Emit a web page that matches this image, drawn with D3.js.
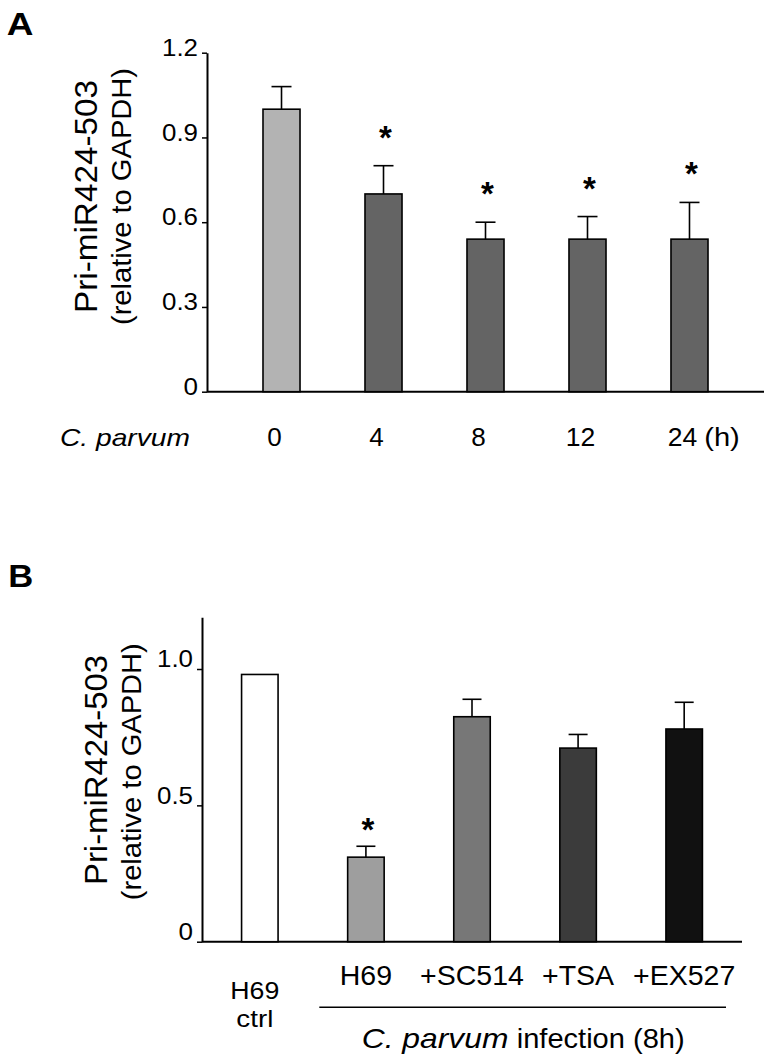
<!DOCTYPE html>
<html>
<head>
<meta charset="utf-8">
<script src="https://cdn.jsdelivr.net/npm/d3@7"></script>
<style>
  html, body { margin: 0; padding: 0; background: #fff; }
  svg { display: block; }
  text { font-family: "Liberation Sans", Arial, Helvetica, sans-serif; fill: #000; }
</style>
</head>
<body>
<svg id="chart" width="772" height="1062"></svg>
<script>
// ---------- Data ----------
const catsA = ["0", "4", "8", "12", "24"];
const meanA = [1.00, 0.70, 0.54, 0.54, 0.54];
const errA  = [0.08, 0.10, 0.06, 0.08, 0.13];
const sigA  = [false, true, true, true, true];
const colorsA = ["#b3b3b3", "#646464", "#646464", "#646464", "#646464"];
const ticksA = [0, 0.3, 0.6, 0.9, 1.2];
const tickLabelsA = ["0", "0.3", "0.6", "0.9", "1.2"];

const catsB = ["H69 ctrl", "H69", "+SC514", "+TSA", "+EX527"];
const meanB = [0.98, 0.31, 0.825, 0.71, 0.78];
const errB  = [0, 0.04, 0.064, 0.05, 0.098];
const sigB  = [false, true, false, false, false];
const colorsB = ["#ffffff", "#9e9e9e", "#777777", "#3b3b3b", "#111111"];
const ticksB = [0, 0.5, 1.0];
const tickLabelsB = ["0", "0.5", "1.0"];

const yTitle1 = "Pri-miR424-503";
const yTitle2 = "(relative to GAPDH)";

// ---------- Drawing ----------
const svg = d3.select("#chart");

function panel(cfg) {
  const g = svg.append("g");
  const x = d3.scaleBand().domain(cfg.cats).range(cfg.xRange)
    .paddingInner(cfg.pi).paddingOuter(cfg.po);
  const y = d3.scaleLinear().domain(cfg.yDomain).range(cfg.yRange);

  // y axis
  const yAxis = d3.axisLeft(y).tickValues(cfg.ticks).tickSize(5).tickSizeOuter(0)
    .tickFormat((d, i) => cfg.tickLabels[i]);
  const ya = g.append("g").attr("transform", `translate(${cfg.xRange[0]},0)`).call(yAxis);
  ya.attr("font-size", 24).attr("font-family", '"Liberation Sans", Arial, sans-serif');
  ya.select(".domain").attr("stroke", "#000").attr("stroke-width", 2);
  ya.selectAll(".tick line").attr("stroke", "#000").attr("stroke-width", 1.5);
  ya.selectAll(".tick text").attr("font-size", 24)
    .attr("x", -9).attr("transform", `translate(0,${cfg.tickShift})`)
    .attr("textLength", function() { return this.textContent.length > 1 ? 36 : 14.5; })
    .attr("lengthAdjust", "spacingAndGlyphs");

  // x axis line
  g.append("line")
    .attr("x1", cfg.xRange[0]).attr("x2", cfg.xRange[1])
    .attr("y1", y(0)).attr("y2", y(0))
    .attr("stroke", "#000").attr("stroke-width", 2);

  const data = cfg.cats.map((c, i) => ({c, m: cfg.mean[i], e: cfg.err[i], s: cfg.sig[i], col: cfg.colors[i]}));
  const bw = x.bandwidth();

  // error bars
  const eb = g.selectAll(".eb").data(data.filter(d => d.e > 0)).enter().append("g");
  eb.append("line")
    .attr("x1", d => x(d.c) + bw / 2).attr("x2", d => x(d.c) + bw / 2)
    .attr("y1", d => y(d.m)).attr("y2", d => y(d.m + d.e))
    .attr("stroke", "#000").attr("stroke-width", 1.6);
  eb.append("line")
    .attr("x1", d => x(d.c) + bw / 2 - cfg.cap / 2).attr("x2", d => x(d.c) + bw / 2 + cfg.cap / 2)
    .attr("y1", d => y(d.m + d.e)).attr("y2", d => y(d.m + d.e))
    .attr("stroke", "#000").attr("stroke-width", 1.6);

  // bars
  g.selectAll(".bar").data(data).enter().append("rect")
    .attr("x", d => x(d.c)).attr("width", bw)
    .attr("y", d => y(d.m)).attr("height", d => y(0) - y(d.m))
    .attr("fill", d => d.col).attr("stroke", "#000").attr("stroke-width", 1.6);

  // significance stars
  g.selectAll(".star").data(data.filter(d => d.s)).enter().append("text")
    .attr("x", d => x(d.c) + bw / 2 + 2)
    .attr("y", d => y(d.m + d.e) - cfg.starGap + 19)
    .attr("text-anchor", "middle").attr("font-size", 33).attr("font-weight", "bold")
    .text("*");

  // y titles
  g.append("text")
    .attr("transform", `translate(${cfg.t1[0]},${cfg.t1[1]}) rotate(-90)`)
    .attr("text-anchor", "middle").attr("font-size", 32)
    .attr("textLength", cfg.t1[2]).attr("lengthAdjust", "spacingAndGlyphs")
    .text(yTitle1);
  g.append("text")
    .attr("transform", `translate(${cfg.t2[0]},${cfg.t2[1]}) rotate(-90)`)
    .attr("text-anchor", "middle").attr("font-size", 28)
    .attr("textLength", cfg.t2[2]).attr("lengthAdjust", "spacingAndGlyphs")
    .text(yTitle2);

  // panel letter
  g.append("text").attr("x", cfg.letter[1]).attr("y", cfg.letter[2])
    .attr("font-size", 31).attr("font-weight", "bold")
    .attr("textLength", cfg.letter[3]).attr("lengthAdjust", "spacingAndGlyphs")
    .text(cfg.letter[0]);

  return {g, x, y, bw};
}

// Panel A
const A = panel({
  cats: catsA, mean: meanA, err: errA, sig: sigA, colors: colorsA,
  ticks: ticksA, tickLabels: tickLabelsA,
  xRange: [207, 764], pi: 0.637, po: 0.549,
  yDomain: [0, 1.2], yRange: [391.7, 52.7],
  tickShift: -5, cap: 20, starGap: 36,
  t1: [97.3, 196.5, 233], t2: [131, 196.5, 257],
  letter: ["A", 6.7, 35, 26.7]
});
// x tick labels A
A.g.selectAll(".xl").data(catsA).enter().append("text")
  .attr("x", d => A.x(d) + A.bw / 2 - 7).attr("y", 445.7)
  .attr("text-anchor", "middle").attr("font-size", 25)
  .attr("textLength", d => d.length > 1 ? 29.5 : 14.5).attr("lengthAdjust", "spacingAndGlyphs")
  .text(d => d);
A.g.append("text").attr("x", A.x("24") + A.bw / 2 - 7 + 21.7).attr("y", 445.7)
  .attr("font-size", 25).attr("textLength", 35.6).attr("lengthAdjust", "spacingAndGlyphs")
  .text("(h)");
A.g.append("text").attr("x", 60).attr("y", 445.7)
  .attr("font-size", 24).attr("font-style", "italic")
  .attr("textLength", 130).attr("lengthAdjust", "spacingAndGlyphs")
  .text("C. parvum");

// Panel B
const B = panel({
  cats: catsB, mean: meanB, err: errB, sig: sigB, colors: colorsB,
  ticks: ticksB, tickLabels: tickLabelsB,
  xRange: [202, 742], pi: 0.656, po: 0.373,
  yDomain: [0, 1.19], yRange: [941.7, 617.2],
  tickShift: -10, cap: 19, starGap: 24,
  t1: [106.7, 770, 230], t2: [141, 771.7, 257],
  letter: ["B", 8.3, 586.7, 25]
});
// x labels B
B.g.selectAll(".xl").data(catsB.slice(1)).enter().append("text")
  .attr("x", d => B.x(d) + B.bw / 2).attr("y", 985)
  .attr("text-anchor", "middle").attr("font-size", 28.5)
  .text(d => d);
const ctrlParts = catsB[0].split(" ");
const ctrlX = B.x(catsB[0]) + B.bw / 2 - 5;
const ctrlText = B.g.append("text")
  .attr("text-anchor", "middle").attr("font-size", 24.5);
ctrlText.append("tspan").attr("x", ctrlX).attr("y", 999)
  .attr("textLength", 49).attr("lengthAdjust", "spacingAndGlyphs").text(ctrlParts[0]);
ctrlText.append("tspan").attr("x", ctrlX).attr("y", 1027)
  .attr("textLength", 37).attr("lengthAdjust", "spacingAndGlyphs").text(ctrlParts[1]);
// group line and caption
B.g.append("line").attr("x1", 319.3).attr("x2", 726).attr("y1", 1007.3).attr("y2", 1007.3)
  .attr("stroke", "#000").attr("stroke-width", 1.5);
B.g.append("text").attr("x", 361.7).attr("y", 1048.3)
  .attr("font-size", 28).attr("font-style", "italic")
  .attr("textLength", 146.7).attr("lengthAdjust", "spacingAndGlyphs")
  .text("C. parvum");
B.g.append("text").attr("x", 516.7).attr("y", 1048.3)
  .attr("font-size", 28)
  .attr("textLength", 168).attr("lengthAdjust", "spacingAndGlyphs")
  .text("infection (8h)");
</script>
</body>
</html>
